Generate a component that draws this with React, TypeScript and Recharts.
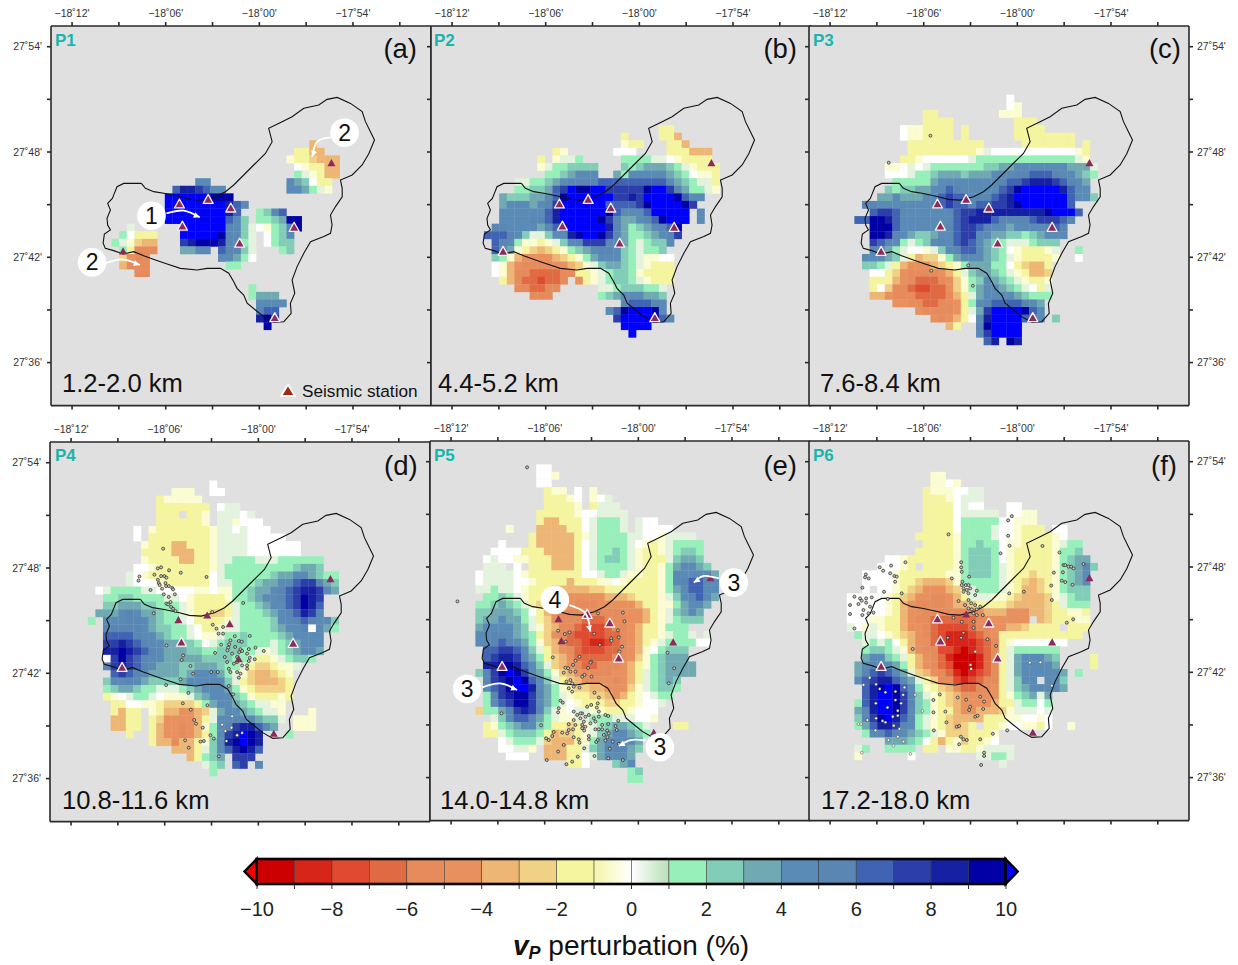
import { CartesianGrid, Scatter, ScatterChart, XAxis, YAxis } from 'recharts'

const FONT = '"Liberation Sans", Arial, sans-serif'

// map window, arcminutes east of 18d12'W and south of 27d54'N
const LON0 = -18.2
const LAT0 = 27.9
const WEST_MIN = -1.35
const EAST_MIN = 23.0
const NORTH_MIN = -1.18
const SOUTH_MIN = 20.45
const PLOT_W = 380
const PLOT_H = 379.6

const lonTicks = [-18.2, -18.15, -18.1, -18.05, -18, -17.95, -17.9, -17.85]
const latTicks = [27.9, 27.85, 27.8, 27.75, 27.7, 27.65, 27.6]

// tomography grid
const GRID_E0 = 1.801
const GRID_S0 = 0.797
const GRID_DE = 0.4872
const GRID_DS = 0.4319

// perturbation bins: a..j = -10..0, k..t = 0..10, w = about 0, u = above 10
const binCodes = 'abcdefghijklmnopqrst'
const binColors = [
  '#cc0000', '#d8251a', '#e04a30', '#e06a42', '#e68b5b', '#e8915e', '#eeb674', '#f1d186', '#f5f5a0', '#fcfcd2',
  '#e4f3de', '#97efb9', '#82cdb7', '#70a9b1', '#5a8bb6', '#5a86b4', '#4163b4', '#2b3eaa', '#1520a2', '#0000a6',
]
const binMids = [-9.5, -8.5, -7.5, -6.5, -5.5, -4.5, -3.5, -2.5, -1.5, -0.5, 0.5, 1.5, 2.5, 3.5, 4.5, 5.5, 6.5, 7.5, 8.5, 9.5]
const colorbarTicks = [-10, -9, -8, -7, -6, -5, -4, -3, -2, -1, 0, 1, 2, 3, 4, 5, 6, 7, 8, 9, 10]

function cellColor(code) {
  if (code === 'w') return '#ffffff'
  if (code === 'u') return '#0000ff'
  return binColors[binCodes.indexOf(code)]
}

// [row, first column, bin codes]
const cellsP1 = [
  [11, 28, 'g'], [12, 26, 'iigg'], [13, 25, 'jiihggg'], [14, 26, 'wjiigg'], [15, 26, 'lkjigg'],
  [16, 13, 'oo'], [16, 25, 'onmwii'], [17, 10, 'qssrqoo'], [17, 25, 'oonlkj'], [18, 9, 'uuuuuuttt'],
  [19, 9, 'uuuuuuuusqo'], [20, 9, 'uuuuuuuusq'], [20, 21, 'lmoq'], [21, 9, 'uuuuuuuuqom'], [21, 21, 'llmntt'],
  [22, 4, 'k'], [22, 11, 'uuuuuupomkwjlmpt'], [23, 3, 'lwiii'], [23, 11, 'uuuuutpomk'], [23, 22, 'wlmo'],
  [24, 2, 'lkjhgg'], [24, 11, 'rstttspolk'], [24, 22, 'wlmm'], [25, 3, 'lieee'], [25, 11, 'nnoo'], [25, 16, 'qppmk'],
  [25, 24, 'lm'], [26, 3, 'hfee'], [26, 16, 'oonlw'], [27, 3, 'geee'], [27, 17, 'll'], [28, 5, 'ee'],
  [30, 20, 'l'], [31, 20, 'lnnn'], [32, 21, 'oooo'], [33, 21, 'pqq'], [34, 21, 'str'], [35, 22, 't'],
]

const cellsP2 = [
  [9, 24, 'ii'], [10, 19, 'i'], [10, 24, 'iig'], [11, 19, 'jii'], [11, 25, 'iig'],
  [12, 10, 'ij'], [12, 18, 'www'], [12, 25, 'iiiggg'], [13, 8, 'i'], [13, 10, 'jkkl'], [13, 19, 'llllkkwjiiii'],
  [14, 8, 'jkllmmmm'], [14, 19, 'mlmnnnmlkjiii'], [15, 9, 'llmnooo'], [15, 18, 'nlooooonmlwjji'],
  [16, 5, 'kkllmnoppppqqqqqqqqqonmlkki'], [17, 5, 'llmmnqruttuurrrrrtuurpnllkj'],
  [18, 3, 'nmmmnnoqtuuuuuurrsruuuutqoo'], [19, 3, 'nooonopruuuuuuqqqqrtuuuutr'],
  [20, 3, 'ooooooqsuuuuuutqoooquuuuu'], [20, 29, 'o'], [21, 3, 'ooooppqsuuuuutrpnnopqtuuu'], [21, 29, 'o'],
  [22, 2, 'ppoooonoqtuuuuuspnlmnopqt'], [23, 1, 'qqqpomkkmoostuutrpnllmnopr'],
  [24, 2, 'qpoljjijkmoprrrponlklmmo'], [25, 2, 'qpnjihghijlmnoppomlkllm'],
  [26, 2, 'mljgffffghijlnooomlkjjww'], [27, 2, 'wjgfeeeeffghjkmnnmlkjiii'],
  [28, 2, 'wjgeeddddeeiijklmmljiiii'], [29, 3, 'igeddcdde'], [29, 13, 'fijklmmlkjiii'],
  [30, 5, 'eeddee'], [30, 16, 'kklmmmllk'], [31, 7, 'eee'], [31, 16, 'lmnooonnm'], [32, 19, 'pqqqpo'],
  [33, 17, 'oqtuuuto'], [34, 18, 'ruuuutqo'], [35, 19, 'uuuu'], [36, 20, 'u'],
]

const cellsP3 = [
  [5, 20, 'w'], [6, 20, 'wj'], [7, 9, 'ii'], [7, 19, 'jjj'], [8, 9, 'iiii'], [8, 21, 'iii'],
  [9, 6, 'wjjiiii'], [9, 14, 'i'], [9, 21, 'iiii'], [10, 6, 'wjjiiii'], [10, 14, 'i'], [10, 21, 'iiiiiiii'],
  [11, 7, 'iiiiiiiiii'], [11, 22, 'iiiiiii'], [11, 30, 'i'], [12, 7, 'iiiiiiiiijkwwwwwwwwwwwji'],
  [13, 6, 'iijwwwwwwklllllllllllllkj'], [14, 4, 'jjwkwklllllllmmnnooooooonnnk'],
  [15, 4, 'wwwkllmnnnmnnnoooppqqqpoonml'], [16, 5, 'lllllnoooooooopqqrsssrqpon'],
  [17, 4, 'mlmmnnooqpoooooqrtuuuuusqoo'], [18, 3, 'nnonnnooqrqqoppqrsuuuuuuuqo'], [18, 30, 'om'],
  [19, 1, 'ppooooooopqrqqpqqrrstuuuuuuq'], [20, 2, 'qrrqoooooooqrrssssssssstuuuq'],
  [21, 0, 'qqttsqoooooooqrsssqppppqrrrqp'], [22, 2, 'tttqoooooopqrrqpoonoooopqp'],
  [23, 2, 'ttsponmmnooqrroonnmmlmnooo'], [24, 2, 'rqpolklmopoqrqonmlkkklmmm'],
  [25, 2, 'ponlkwwjkmopqqonmlwjiiijk'], [25, 29, 'l'], [26, 1, 'ooonmkighhjlnooonmlkjiiiij'], [26, 29, 'w'],
  [27, 1, 'mmlkigfffghijlnnnllwihggi'], [28, 2, 'wwihfeeeefgikmnnmlkjiggh'],
  [29, 2, 'iiigfedddefhjlmonmlkjiij'], [30, 2, 'iwheedccddfhjlnoonmlkwik'],
  [31, 2, 'ggfeeeddddegiknoooonmlll'], [32, 5, 'ffeeddeefilopqqqqpon'],
  [33, 8, 'feeeefiknruuuutqo'], [34, 10, 'fefgiwosuuuuqoo'], [34, 26, 'm'],
  [35, 12, 'gi'], [35, 16, 'ptuuuu'], [36, 16, 'oruuuu'], [37, 17, 'qs.ts'],
]

const cellsP4 = [
  [1, 15, 'w'], [2, 10, 'jjj'], [2, 15, 'ww'], [3, 8, 'ijjjjj'], [4, 8, 'iiiiiii'], [4, 16, 'wkk'],
  [5, 8, 'iii.iij'], [5, 16, 'kkkwk'], [6, 8, 'iiiiiij'], [6, 16, 'kkjwww'], [7, 5, 'w'], [7, 7, 'jiiiiiiijkkwkwww'],
  [8, 5, 'w'], [8, 7, 'iiiiiiiijkkkkwwwww'], [9, 6, 'jiiiggiiijkkkkwwwwwww'], [10, 6, 'iiiigggiijkkkkwwwwwww'],
  [11, 6, 'jiiiiggiijkklllkkkllllll'], [12, 5, 'wwjiiiiiiijklllllllllmnnm'],
  [13, 4, 'kwjiiiiiiiiwkllllllmnnoonmll'], [14, 4, 'kwwwjiiiiiiwkklllmnnooqrrpnm'],
  [15, 0, 'wkllllkkwwwwwjjwjjllmnnopqrssron'], [16, 1, 'llmmllllkkwjiiiijllmnoopqrtsr'],
  [17, 1, 'mmnnnmmlllkjiiiiikllmnooqrtsq'], [18, 0, 'nnnoponnmllkjiihhiklllmnopqsrp'],
  [19, -1, 'l'], [19, 1, 'ooopponmllkwiiiijkllllmoopqpo'], [19, 30, 'om'],
  [20, 1, 'ppppponmmllkwiijkkllllmnoopw'], [20, 29, 'onl'], [21, 1, 'qqqqpoonmllkwjjkllmllllmnoooo'],
  [22, 1, 'rrsrqpoonnmmlwklmmmlllklmnooo'], [23, 1, 'sstsrqponnnmmllmmmllkjklmnoon'],
  [24, 1, 'wrtrqpoonnnnnmmmmllkiijklmml'], [25, 1, 'prsrqponnnmmnnnmllkihhijjk'],
  [26, 2, 'qrqponnnnmnooonlkjhgghij'], [27, 1, 'mooponmmmmnooooomkihggghi'],
  [28, 1, 'lmnnmllkkklmnooonljihhhhi'], [29, 1, 'ijwkllkwjjjkmnooomljiiiji'],
  [30, 2, 'iiwwjjihhhhilnoonmlkkjj'], [31, 2, 'igii'], [31, 7, 'jiggffghknoonmlkkj'], [31, 28, 'j'],
  [32, 2, 'ggii'], [32, 7, 'ihffffgikoopponmmk'], [32, 26, 'jjj'], [33, 2, 'ggii'], [33, 7, 'igffefgjloprssqon'],
  [33, 26, 'jjj'], [34, 4, 'i'], [34, 7, 'igffefgilorsuts'], [34, 25, 'l'], [35, 7, 'iggeggijmostuts'],
  [36, 10, 'gggikmoqstsq'], [37, 12, 'gilmn'], [37, 18, 'rrr'], [38, 14, 'klm'], [38, 18, 'qr'], [38, 21, 'o'], [39, 15, 'l'],
]

const cellsP5 = [
  [-1, 8, 'ww'], [0, 8, 'wwj'], [1, 8, 'ww'], [2, 9, 'ijj'], [2, 13, 'w'], [2, 15, 'j'], [3, 9, 'iiijw'], [3, 15, 'jwk'],
  [4, 9, 'iiiij'], [4, 15, 'ikkk'], [5, 8, 'iiiiijwwkkkk'], [6, 8, 'iggiiiwklllk'], [6, 21, 'kww'],
  [7, 4, 'j'], [7, 8, 'ggggiiwklllk'], [7, 21, 'kwwww'], [8, 7, 'igggggijkllllkkwwjkkkk'],
  [9, 3, 'w'], [9, 7, 'igggggiwkllllkwjijkllll'], [10, 2, 'wwwwiiiggggiwkllmlkjiijklmml'],
  [11, 1, 'wkwwjjiiigggiwklmmlkjiiikmnnm'], [12, 1, 'kkk.w.iiigggiwkllllkjiijlnoonm'],
  [13, 0, 'wkkkkwjiiiiiiiwwkllkjjiijlooooon'], [14, 0, 'wkkkkwwjiiiigiiijjwjiiiijlopqqoo'],
  [15, 0, 'kklkkwjiiiggggghhiiiiiiijlnoqqoo'], [16, 1, 'llmlkjiiggffffffggghiiijkmopqon'],
  [17, 0, 'llmnmlkihgfffeeefffffgiijjlnoon'], [18, 0, 'mmnnnmlwigfeeeeeeeefffgijkmnon'],
  [19, 0, 'mnnonnlkihfeeedddeeeffgijklmmm'], [20, 0, 'noooonmkjhgeedcccdeefgiijlll'],
  [21, 0, 'oopponmlihfedccccddefgiijkllk'], [21, 30, 'k'], [22, 0, 'oopqponljhgeddcbbcdefgijkllllw'], [22, 30, 'w'],
  [23, 1, 'qqrrqomkigfedcccddefgjwlmmm'], [24, 1, 'qrssrpnlihgfdddddeefhjlmnnn'],
  [25, 1, 'ssttsqomkhgfeddeeefgijlmnnnn'], [26, 0, 'mprtutronljhgfeeeeffgiklmnnnn'],
  [27, 1, 'prstutqomkihgffffefgiklmnm'], [28, 1, 'oqrtuusonljihhggfffhjklmml'],
  [29, 1, 'lprsttrpnlkjiihhgfgijwkll'], [30, 1, 'loqrttronlkwjiiihhiijwwk'],
  [31, 0, 'hllnprsrpmkjwkkjjiiijwww'], [32, 2, 'kmoqqpnlkjjkklllkkkwwj'],
  [33, 1, 'ijlmnoomliihijklmnnmlk'], [33, 26, 'ii'], [34, 1, 'iiklmmmlighhijkmnoonml'],
  [35, 3, 'wklllkhgggijlnoooon'], [36, 3, 'wwkkj.gggiikmnpppnm'], [37, 4, 'www'], [37, 9, 'gggiiwknooon'],
  [38, 12, 'iiw'], [38, 18, 'mno'], [39, 20, 'lm'], [40, 20, 'll'],
]

const cellsP6 = [
  [0, 10, 'jj'], [1, 10, 'jjwj'], [2, 9, 'ijjjwwkk'], [3, 9, 'iiijwkkk'], [4, 9, 'iiiiwkww'], [4, 20, 'ww'],
  [5, 9, 'iiiiwkkkkk'], [5, 20, 'wwjj'], [6, 9, 'iiiiwlllll'], [6, 19, 'wwjjj'], [7, 9, 'iiiiwllllkwwjiii'], [7, 26, 'ww'],
  [8, 8, 'iiiiijllllkwwjiiiijw'], [9, 9, 'iiiijllmllwjjiiiijkll'], [10, 8, 'iiiiijlmmmlwjiiiiijllm'],
  [11, 4, 'wwjiiiiiijlmmmlwjiiiiijlmnn'], [12, 3, 'wwwji.iiiijlmmmlkjiiiiijlmnom'],
  [13, 1, 'wwwwjiiiiiijjlmmmlkjiihiijlmno'], [14, 1, 'wwwwjiihggghjlllllkjihghijlmno'],
  [15, 1, 'w.wwjihgfffghjklllkjigghijlmmm'], [16, -1, 'wwwwwjihgffeefgikkkjjihggghjklmm'],
  [17, -1, 'wwwwwjigfeeeefgghiiiihgggghiklll'], [18, -1, 'wwwwwjigffeeeeeeefgggfffgghiijji'],
  [19, -1, 'wwwjjiigfeeddddddeefffff.ghiiijj'], [20, -1, 'kwjkjiigffedccccdeeffgghiiii.iii'],
  [21, 0, 'lkkwjihgfedcbbbcdefiiiiiiiiiii'], [22, 1, 'klklwigffdcbbbbcdeijwwwwwww'],
  [23, 1, 'lmmlkjgfeeccbabcdeikllllll'], [24, 1, 'noomlkigfedbaaabdeiknooonm'], [24, 31, 'i'],
  [25, 0, 'nopoonligfedcaaabdeiknoooon'], [25, 31, 'i'], [26, 0, 'npqrqonkhgfedbabcdeiknooooon'], [26, 29, 'l'],
  [27, 0, 'oqrssqonkiheecbcdeeikmoo.oom'], [28, 1, 'qstutqoljihgeddeefikmnoooon'],
  [29, 1, 'qsuutrpmkjihgfffffijlmnkn'], [30, 0, 'lqsuutrpmljihgffffgiikllwl'],
  [31, 0, 'npsuutromljiigffggghjkkkwk'], [32, 0, 'mprtusqolkjihggggiiijjwwjw'],
  [33, 0, 'lnqssrpolkjihghi.iijwwjjiw'], [33, 28, 'j'], [34, 1, 'lopqponmlkjhhhiiij'],
  [35, 4, 'nnnmlwigijhiijw'], [36, 0, 'kl'], [36, 4, 'llll'], [36, 9, 'ii'], [36, 12, 'jjiijkkkk'],
  [37, 0, 'j'], [37, 7, 'w'], [37, 16, 'kkllk'], [38, 19, 'k'],
]

// coastline, [arcmin east, arcmin south]
const coastline = [
  [4.44, 7.79], [3.95, 7.79], [3.31, 7.79], [2.88, 7.98], [2.71, 8.36], [2.58, 8.64], [2.28, 8.93], [2.46, 9.3], [2.24, 9.78],
  [2.28, 10.16], [2.46, 10.44], [2.07, 10.67], [1.99, 11.2], [2.13, 11.49], [2.67, 11.62], [3.27, 11.81], [3.95, 11.68],
  [4.59, 11.91], [5.34, 12.15], [6.09, 12.38], [6.94, 12.63], [8.01, 12.72], [8.65, 12.63], [9.51, 12.63], [10.04, 12.91],
  [10.36, 13.39], [10.57, 13.77], [11.0, 14.15], [11.22, 14.62], [11.75, 15.0], [12.28, 15.38], [12.93, 15.71], [13.57, 15.67],
  [14.04, 15.19], [13.99, 14.62], [14.27, 14.05], [14.1, 13.29], [14.42, 12.53], [14.85, 11.77], [15.28, 11.11], [16.13, 10.82],
  [16.56, 10.63], [16.66, 10.16], [16.56, 9.59], [16.88, 9.11], [17.31, 8.55], [17.31, 8.07], [17.2, 7.6], [17.95, 7.31],
  [18.59, 6.74], [19.02, 6.08], [19.38, 5.32], [19.12, 4.84], [18.8, 4.27], [18.59, 3.7], [17.84, 3.23], [16.99, 2.89],
  [16.34, 3.0], [15.81, 3.32], [14.85, 3.51], [14.1, 3.99], [13.46, 4.27], [12.6, 4.65], [12.82, 5.41], [12.39, 6.08],
  [11.64, 6.74], [11.0, 7.31], [10.36, 7.88], [9.83, 8.26], [9.19, 8.55], [8.33, 8.74], [7.58, 8.7], [6.94, 8.55],
  [5.98, 8.36], [5.23, 8.26], [4.7, 8.07], [4.44, 7.79],
]

const stationSites = [
  [6.88, 8.96], [8.72, 8.7], [10.17, 9.19], [7.07, 10.22], [10.74, 11.19], [14.23, 10.29], [12.99, 15.44], [16.62, 6.63], [3.27, 11.66],
]

const eventsP3 = [[6.43, 5.07], [3.76, 6.61], [6.48, 12.76], [8.85, 12.46], [9.15, 13.62]]

const eventsP4 = [
  [5.9, 4.9], [5.56, 6.02], [5.77, 5.96], [6.28, 6.13], [7.03, 6.27], [5.34, 6.38], [5.77, 6.46], [5.98, 6.46], [6.11, 6.55], [8.68, 6.51],
  [4.38, 6.48], [4.32, 6.72], [5.56, 6.67], [5.62, 6.86], [5.68, 6.97], [6.05, 6.86], [6.26, 7.03], [6.48, 7.14], [6.54, 7.22], [6.09, 7.03],
  [5.09, 7.25], [5.83, 7.18], [6.65, 7.5], [5.94, 7.5], [6.26, 7.65], [6.37, 7.94], [6.11, 8.03], [6.22, 8.07], [6.41, 8.22], [6.54, 8.32],
  [6.69, 8.45], [5.3, 8.58], [11.03, 7.99], [9.04, 8.51], [9.08, 9.23], [9.32, 9.46], [9.74, 9.36], [9.45, 9.74], [9.74, 9.74], [9.62, 10.37],
  [11.45, 9.87], [10.49, 9.89], [10.75, 10.16], [10.94, 10.2], [10.21, 10.12], [10.13, 10.35], [10.07, 10.54], [10.51, 10.5], [10.86, 10.63],
  [11.39, 10.62], [11.82, 10.54], [12.35, 10.73], [9.23, 10.84], [10.02, 10.69], [10.77, 10.79], [10.96, 10.73], [9.85, 11.07], [10.32, 10.88],
  [10.64, 11.07], [11.28, 10.88], [11.45, 11.11], [11.77, 11.2], [11.39, 11.3], [10.0, 11.36], [10.43, 11.45], [10.64, 11.36], [10.96, 11.55],
  [11.28, 11.55], [11.28, 11.74], [10.11, 11.74], [10.21, 11.93], [10.64, 11.93], [10.86, 12.02], [10.75, 12.25], [6.11, 10.41], [7.18, 10.98],
  [7.09, 11.24], [7.65, 11.58], [7.82, 12.02], [8.98, 11.93], [9.4, 11.93], [7.01, 12.34], [6.09, 12.67], [10.11, 12.72], [10.39, 13.2],
  [7.52, 13.12], [7.16, 13.71], [8.74, 13.82], [7.67, 14.07], [7.89, 14.66], [8.01, 14.87], [8.44, 15.1], [8.93, 15.53], [9.15, 15.72],
  [8.51, 15.86], [8.29, 15.89], [7.31, 15.82], [7.54, 16.24], [9.47, 16.73],
]
const brightEventsP4 = [[10.32, 14.45], [9.68, 14.93], [10.28, 15.1], [10.96, 15.4], [10.64, 15.53], [9.96, 15.86], [9.89, 15.29]]

const eventsP5 = [
  [4.87, 0.32], [0.41, 7.96], [9.42, 8.64], [11.01, 8.6], [11.11, 9.1], [10.69, 9.61], [7.59, 9.72], [7.29, 9.82], [6.86, 9.63], [9.17, 9.8],
  [7.35, 10.25], [10.26, 10.06], [10.28, 10.2], [10.75, 10.01], [10.96, 10.54], [9.53, 10.43], [10.79, 10.82], [6.52, 11.15], [8.23, 11.11],
  [7.97, 11.34], [7.82, 11.58], [8.98, 11.39], [8.93, 11.45], [8.78, 11.75], [7.33, 11.74], [7.5, 11.77], [7.22, 12.02], [7.65, 11.96], [7.97, 11.96],
  [8.4, 12.25], [9.0, 12.25], [8.55, 12.15], [13.87, 10.88], [14.3, 11.77], [13.95, 12.63], [7.65, 12.44], [7.39, 12.53], [7.76, 12.63], [7.86, 12.82],
  [7.54, 12.91], [7.76, 13.1], [8.23, 12.88], [9.19, 13.16], [9.47, 13.44], [7.01, 13.62], [7.16, 13.73], [6.9, 14.05], [6.86, 14.28], [3.23, 14.34],
  [5.77, 15.02], [8.98, 13.86], [9.4, 13.77], [9.34, 14.01], [9.47, 14.24], [8.4, 14.34], [8.72, 13.96], [7.86, 14.24], [8.08, 14.43], [8.29, 14.34],
  [8.61, 14.53], [8.83, 14.43], [9.15, 14.62], [9.47, 14.53], [9.89, 14.43], [10.07, 14.49], [7.86, 14.72], [8.29, 14.62], [8.51, 14.81], [8.93, 14.91],
  [9.25, 14.81], [7.54, 14.96], [7.97, 15.0], [8.4, 15.0], [8.61, 15.1], [9.68, 15.0], [10.07, 14.95], [10.54, 15.06], [10.71, 14.76], [7.54, 15.29],
  [7.82, 15.25], [8.4, 15.19], [8.53, 15.32], [9.25, 15.25], [9.47, 15.25], [9.68, 15.25], [10.0, 15.32], [10.62, 15.29], [7.12, 15.44], [7.44, 15.48],
  [6.58, 15.4], [6.48, 15.63], [6.09, 15.76], [6.26, 15.86], [7.86, 15.7], [8.18, 15.82], [8.83, 15.63], [8.83, 15.82], [9.4, 15.86], [9.79, 15.57],
  [10.11, 15.48], [10.02, 15.7], [9.3, 15.97], [9.89, 15.89], [8.23, 16.01], [7.22, 16.14], [8.53, 16.33], [10.36, 15.95], [10.75, 16.08], [10.17, 16.35],
  [6.86, 16.52], [8.12, 16.81], [9.19, 16.77], [10.07, 16.9], [11.01, 17.0], [6.13, 17.0], [7.39, 17.24], [7.76, 17.09],
]

const eventsP6 = [
  [11.65, 3.1], [11.41, 3.34], [7.59, 4.14], [11.41, 4.22], [11.5, 4.79], [13.61, 4.8], [10.92, 5.22], [14.7, 5.17], [4.83, 5.73], [8.4, 5.73],
  [3.91, 5.92], [3.18, 6.02], [3.4, 6.21], [8.4, 6.02], [8.44, 6.27], [14.96, 5.89], [15.07, 5.89], [15.28, 5.98], [15.45, 5.98], [15.6, 6.08],
  [16.24, 5.83], [3.85, 6.36], [4.12, 6.51], [4.27, 6.55], [2.29, 6.42], [2.24, 6.59], [2.48, 6.65], [4.17, 6.84], [7.8, 6.65], [8.91, 6.55],
  [14.34, 6.32], [14.92, 6.3], [14.85, 6.78], [15.07, 6.86], [15.54, 7.01], [14.17, 7.06], [8.48, 6.84], [8.44, 7.03], [8.7, 7.03], [8.87, 7.03],
  [8.55, 7.22], [8.76, 7.31], [8.98, 7.22], [8.55, 7.41], [8.87, 7.5], [9.4, 7.35], [9.3, 7.6], [2.07, 7.18], [3.46, 7.41], [4.59, 7.5],
  [3.7, 7.82], [11.48, 7.5], [12.42, 7.41], [1.56, 7.69], [1.92, 7.79], [2.31, 7.79], [2.67, 7.73], [2.03, 7.92], [2.31, 8.03], [1.28, 8.17],
  [1.82, 8.11], [2.56, 8.26], [2.14, 8.45], [2.78, 8.6], [2.46, 8.64], [1.28, 8.68], [2.07, 8.74], [1.56, 9.5], [8.23, 7.94], [14.21, 7.88],
  [8.87, 7.88], [9.04, 8.07], [8.65, 8.17], [9.3, 8.17], [8.87, 8.36], [9.08, 8.41], [9.4, 8.41], [9.62, 8.26], [9.19, 8.64], [9.4, 8.74],
  [9.79, 8.74], [7.91, 8.89], [8.44, 9.12], [9.19, 9.12], [15.58, 8.98], [15.17, 9.17], [9.19, 9.46], [8.55, 9.74], [8.4, 10.03], [7.54, 10.03],
  [10.09, 10.12], [10.64, 10.5], [5.3, 10.67], [7.03, 13.26], [6.62, 13.58], [6.62, 14.28], [8.18, 13.44], [8.72, 13.56], [9.62, 13.39], [9.87, 13.67],
  [8.98, 13.96], [8.91, 14.15], [9.81, 14.09], [9.3, 14.53], [9.45, 14.47], [7.39, 14.24], [7.46, 14.85], [8.12, 15.1], [8.27, 15.06], [6.65, 15.31],
  [8.38, 15.67], [8.55, 15.82], [8.76, 15.86], [9.62, 15.82], [10.43, 15.5], [11.35, 15.31], [8.27, 16.1], [9.87, 16.58], [9.87, 16.77], [9.68, 17.28],
]
const brightEventsP6 = [
  [9.3, 10.82], [9.0, 11.58], [9.04, 11.81], [12.8, 11.45], [13.48, 11.43], [14.21, 12.76], [2.54, 12.31], [2.14, 12.72], [2.95, 12.69], [3.18, 12.95],
  [3.55, 13.14], [4.77, 12.86], [4.19, 13.1], [4.68, 13.29], [5.45, 13.29], [2.93, 13.77], [3.68, 14.01], [4.19, 13.58], [4.55, 13.77], [4.34, 14.19],
  [5.92, 14.2], [4.02, 14.53], [4.34, 14.47], [2.95, 14.62], [3.36, 14.77], [3.55, 14.85], [4.08, 15.04], [4.44, 15.23], [2.91, 15.31], [1.82, 14.95],
  [1.99, 14.95], [2.39, 14.72], [3.74, 15.86], [4.7, 15.95], [4.06, 16.18], [4.34, 15.67], [2.03, 16.58], [5.15, 16.65],
]

// numbered callouts: label, bubble, arrow start, arrow bend, arrow tip
const calloutsP1 = [
  ['1', [5.09, 9.63], [6.05, 9.5], [7.16, 9.34], [8.18, 9.72]],
  ['2', [17.46, 4.9], [16.56, 5.17], [15.71, 5.41], [15.39, 6.27]],
  ['2', [1.28, 12.29], [2.14, 12.34], [3.21, 12.12], [4.34, 12.44]],
]
const calloutsP5 = [
  ['3', [18.12, 6.89], [17.16, 6.65], [16.2, 6.51], [15.56, 6.89]],
  ['4', [6.65, 7.88], [7.59, 8.17], [8.61, 8.64], [8.93, 9.68]],
  ['3', [1.03, 12.95], [1.99, 12.86], [3.16, 12.63], [4.23, 13.01]],
  ['3', [13.38, 16.27], [12.46, 15.89], [11.5, 15.86], [10.75, 16.2]],
]

const toPoint = ([east, south]) => ({ lon: LON0 + east / 60, lat: LAT0 - south / 60 })

function expandCells(rows) {
  const out = []
  for (const [row, col, codes] of rows) {
    ;[...codes].forEach((code, i) => {
      if (code === '.') return
      out.push({
        lon: LON0 + (GRID_E0 + (col + i) * GRID_DE) / 60,
        lat: LAT0 - (GRID_S0 + row * GRID_DS) / 60,
        code,
      })
    })
  }
  return out
}

const CELL_W = (GRID_DE * PLOT_W) / (EAST_MIN - WEST_MIN)
const CELL_H = (GRID_DS * PLOT_H) / (SOUTH_MIN - NORTH_MIN)

const lonDomain = [LON0 + WEST_MIN / 60, LON0 + EAST_MIN / 60]
const latDomain = [LAT0 - SOUTH_MIN / 60, LAT0 - NORTH_MIN / 60]

function graticuleLabel(value) {
  const abs = Math.abs(value)
  const deg = Math.floor(abs + 1e-9)
  const min = Math.round((abs - deg) * 60)
  if (min % 6 !== 0) return ''
  const sign = value < 0 ? '\u2212' : ''
  return `${sign}${deg}\u02DA${String(min).padStart(2, '0')}'`
}

function CellMark(props) {
  const code = props.payload?.code ?? props.code
  return (
    <rect
      x={props.cx - CELL_W / 2}
      y={props.cy - CELL_H / 2}
      width={CELL_W + 0.3}
      height={CELL_H + 0.3}
      fill={cellColor(code)}
    />
  )
}

function EventMark({ cx, cy }) {
  return <circle cx={cx} cy={cy} r={1.5} fill="#c4c4b8" stroke="#222" strokeWidth={0.7} />
}

function BrightEventMark({ cx, cy }) {
  return <circle cx={cx} cy={cy} r={1.4} fill="#fdfbd0" stroke="#223" strokeWidth={0.4} />
}

function StationMark(props) {
  const { cx, cy } = props
  const halo = props.payload?.halo ?? props.halo
  const r = halo ? 5 : 4
  const pts = `${cx},${cy - r} ${cx - r},${cy + r * 0.8} ${cx + r},${cy + r * 0.8}`
  return (
    <polygon
      points={pts}
      fill="#8a2b5c"
      stroke={halo ? '#f6f0f0' : 'none'}
      strokeWidth={halo ? 1.3 : 0}
      strokeLinejoin="round"
    />
  )
}

function BubbleMark(props) {
  const { cx, cy } = props
  const label = props.payload?.label ?? props.label
  return (
    <g>
      <circle cx={cx} cy={cy} r={14.3} fill="#ffffff" />
      <text x={cx} y={cy + 8} textAnchor="middle" fontSize={23} fontFamily={FONT} fill="#111">
        {label}
      </text>
    </g>
  )
}

function ArrowTip(props) {
  const p = props.payload ?? props
  if (p.angle === undefined) return <g />
  const { cx, cy } = props
  return <polygon points="0,0 -6,-3 -6,3" fill="#fff" transform={`translate(${cx},${cy}) rotate(${p.angle})`} />
}

function NoMark() {
  return <g />
}

function arrowPoints(callout) {
  const pts = [callout[2], callout[3], callout[4]]
  const [a, b] = [pts[1], pts[2]]
  const angle = (Math.atan2((b[1] - a[1]) * 17.55, (b[0] - a[0]) * 15.6) * 180) / Math.PI
  return pts.map((p, i) => (i === 2 ? { ...toPoint(p), angle } : toPoint(p)))
}

function MapPanel({ left, top, cells, events = [], brightEvents = [], haloStations, callouts = [], labelSide }) {
  const stations = stationSites.map((s, i) => ({ ...toPoint(s), halo: haloStations.includes(i) }))
  const axisColor = '#2a2a2a'
  const labelTick = { fontSize: 10.5, fill: '#333', fontFamily: FONT }
  return (
    <div style={{ position: 'absolute', left: left - 45, top: top - 26 }}>
      <ScatterChart
        width={PLOT_W + 90}
        height={PLOT_H + 38}
        margin={{ top: 0, right: 0, bottom: 0, left: 0 }}
      >
        <CartesianGrid horizontal={false} vertical={false} fill="#e0e0e0" stroke="none" />
        <XAxis
          xAxisId="top"
          orientation="top"
          type="number"
          dataKey="lon"
          domain={lonDomain}
          ticks={lonTicks}
          interval={0}
          height={26}
          tickSize={4}
          tickMargin={5}
          allowDataOverflow
          stroke={axisColor}
          strokeWidth={1.6}
          tick={labelTick}
          tickFormatter={graticuleLabel}
        />
        <XAxis
          xAxisId="bottom"
          orientation="bottom"
          type="number"
          dataKey="lon"
          domain={lonDomain}
          ticks={lonTicks}
          interval={0}
          height={12}
          tickSize={4}
          allowDataOverflow
          stroke={axisColor}
          strokeWidth={1.6}
          tickFormatter={() => ''}
        />
        <YAxis
          yAxisId="left"
          orientation="left"
          type="number"
          dataKey="lat"
          domain={latDomain}
          ticks={latTicks}
          interval={0}
          width={45}
          tickSize={4}
          tickMargin={5}
          allowDataOverflow
          stroke={axisColor}
          strokeWidth={1.6}
          tick={labelTick}
          tickFormatter={(v) => (labelSide === 'left' ? graticuleLabel(v) : '')}
        />
        <YAxis
          yAxisId="right"
          orientation="right"
          type="number"
          dataKey="lat"
          domain={latDomain}
          ticks={latTicks}
          interval={0}
          width={45}
          tickSize={4}
          tickMargin={4}
          allowDataOverflow
          stroke={axisColor}
          strokeWidth={1.6}
          tick={labelTick}
          tickFormatter={(v) => (labelSide === 'right' ? graticuleLabel(v) : '')}
        />
        <Scatter
          xAxisId="top"
          yAxisId="left"
          data={expandCells(cells)}
          shape={CellMark}
          isAnimationActive={false}
        />
        <Scatter
          xAxisId="top"
          yAxisId="left"
          data={coastline.map(toPoint)}
          line={{ stroke: '#111', strokeWidth: 1.1 }}
          shape={NoMark}
          isAnimationActive={false}
        />
        <Scatter xAxisId="top" yAxisId="left" data={events.map(toPoint)} shape={EventMark} isAnimationActive={false} />
        <Scatter
          xAxisId="top"
          yAxisId="left"
          data={brightEvents.map(toPoint)}
          shape={BrightEventMark}
          isAnimationActive={false}
        />
        <Scatter xAxisId="top" yAxisId="left" data={stations} shape={StationMark} isAnimationActive={false} />
        {callouts.map((c, i) => (
          <Scatter
            key={`arrow-${i}`}
            xAxisId="top"
            yAxisId="left"
            data={arrowPoints(c)}
            line={{ stroke: '#fff', strokeWidth: 1.8 }}
            lineJointType="natural"
            shape={ArrowTip}
            isAnimationActive={false}
          />
        ))}
        <Scatter
          xAxisId="top"
          yAxisId="left"
          data={callouts.map((c) => ({ ...toPoint(c[1]), label: c[0] }))}
          shape={BubbleMark}
          isAnimationActive={false}
        />
      </ScatterChart>
    </div>
  )
}

const COLORBAR_W = 749
const COLORBAR_H = 25

function ColorbarCell(props) {
  const v = props.payload?.v ?? props.v
  const i = binMids.indexOf(v)
  const fill = i === 9 ? 'url(#barYellowWhite)' : i === 10 ? 'url(#barWhiteGreen)' : binColors[i]
  const w = COLORBAR_W / 20
  return (
    <rect
      x={props.cx - w / 2}
      y={props.cy - COLORBAR_H / 2}
      width={w}
      height={COLORBAR_H}
      fill={fill}
      stroke="#333"
      strokeWidth={0.5}
    />
  )
}

function Colorbar() {
  return (
    <div style={{ position: 'absolute', left: 256.6 - 30, top: 859 }}>
      <ScatterChart
        width={COLORBAR_W + 60}
        height={COLORBAR_H + 60}
        margin={{ top: 0, right: 30, bottom: 0, left: 30 }}
      >
        <defs>
          <linearGradient id="barYellowWhite" x1="0" y1="0" x2="1" y2="0">
            <stop offset="0%" stopColor="#f5f5a8" />
            <stop offset="100%" stopColor="#ffffff" />
          </linearGradient>
          <linearGradient id="barWhiteGreen" x1="0" y1="0" x2="1" y2="0">
            <stop offset="0%" stopColor="#ffffff" />
            <stop offset="100%" stopColor="#b8dfb8" />
          </linearGradient>
        </defs>
        <XAxis
          type="number"
          dataKey="v"
          domain={[-10, 10]}
          ticks={colorbarTicks}
          interval={0}
          height={60}
          tickSize={5}
          tickMargin={13}
          axisLine={false}
          stroke="#333"
          tick={{ fontSize: 20, fill: '#222', fontFamily: FONT }}
          tickFormatter={(v) => (v % 2 === 0 ? String(v).replace('-', '\u2212') : '')}
        />
        <YAxis type="number" dataKey="y" domain={[0, 1]} hide />
        <Scatter data={binMids.map((v) => ({ v, y: 0.5 }))} shape={ColorbarCell} isAnimationActive={false} />
      </ScatterChart>
    </div>
  )
}

const panelText = [
  { tag: 'P1', letter: '(a)', depth: '1.2-2.0 km', tagX: 55, letterX: 417, depthX: 62, tagY: 46, letterY: 58, depthY: 392 },
  { tag: 'P2', letter: '(b)', depth: '4.4-5.2 km', tagX: 434, letterX: 797, depthX: 438, tagY: 46, letterY: 58, depthY: 392 },
  { tag: 'P3', letter: '(c)', depth: '7.6-8.4 km', tagX: 813, letterX: 1181, depthX: 820, tagY: 46, letterY: 58, depthY: 392 },
  { tag: 'P4', letter: '(d)', depth: '10.8-11.6 km', tagX: 55, letterX: 417.7, depthX: 62, tagY: 461, letterY: 475, depthY: 809 },
  { tag: 'P5', letter: '(e)', depth: '14.0-14.8 km', tagX: 434, letterX: 797, depthX: 440, tagY: 461, letterY: 475, depthY: 809 },
  { tag: 'P6', letter: '(f)', depth: '17.2-18.0 km', tagX: 813, letterX: 1177, depthX: 821, tagY: 461, letterY: 475, depthY: 809 },
]

function Overlay() {
  return (
    <svg
      width={1238}
      height={965}
      style={{ position: 'absolute', left: 0, top: 0, pointerEvents: 'none' }}
      fontFamily={FONT}
    >
      {panelText.map((p) => (
        <g key={p.tag}>
          <text x={p.tagX} y={p.tagY} fontSize={17} fontWeight="bold" fill="#19b5ad">
            {p.tag}
          </text>
          <text x={p.letterX} y={p.letterY} fontSize={27.5} textAnchor="end" fill="#111">
            {p.letter}
          </text>
          <text x={p.depthX} y={p.depthY} fontSize={25.6} fill="#111">
            {p.depth}
          </text>
        </g>
      ))}
      <polygon
        points="288,384.5 281,396 295,396"
        fill="#a32a12"
        stroke="#fff"
        strokeWidth={2}
        strokeLinejoin="round"
      />
      <text x={302} y={396.5} fontSize={17.2} fill="#111">
        Seismic station
      </text>
      <rect x={256.6} y={859} width={COLORBAR_W} height={COLORBAR_H} fill="none" stroke="#000" strokeWidth={2.6} />
      <polygon points="256.6,859 244.5,871.5 256.6,884" fill="#f00000" stroke="#000" strokeWidth={2.4} />
      <polygon points="1005.6,859 1017.7,871.5 1005.6,884" fill="#0000ff" stroke="#000" strokeWidth={2.4} />
      <text x={513} y={955} fontSize={28} fill="#111">
        <tspan fontWeight="bold" fontStyle="italic">v</tspan>
        <tspan fontWeight="bold" fontStyle="italic" fontSize={18} dy={4}>P</tspan>
        <tspan dy={-4}> perturbation (%)</tspan>
      </text>
    </svg>
  )
}

export default function App() {
  return (
    <div style={{ position: 'absolute', left: 0, top: 0, width: 1238, height: 965, background: '#fff' }}>
      <MapPanel left={50.6} top={26} cells={cellsP1} haloStations={[0, 1, 2, 3, 4, 5, 6]} callouts={calloutsP1} labelSide="left" />
      <MapPanel left={430.6} top={26} cells={cellsP2} haloStations={[0, 1, 2, 3, 4, 5, 6, 8]} />
      <MapPanel left={808.6} top={26} cells={cellsP3} events={eventsP3} haloStations={[0, 1, 2, 3, 4, 5, 6, 8]} labelSide="right" />
      <MapPanel left={49.6} top={441.6} cells={cellsP4} events={eventsP4} brightEvents={brightEventsP4} haloStations={[3, 5, 8]} labelSide="left" />
      <MapPanel left={429.6} top={441} cells={cellsP5} events={eventsP5} haloStations={[1, 2, 4, 8]} callouts={calloutsP5} />
      <MapPanel left={808.6} top={441} cells={cellsP6} events={eventsP6} brightEvents={brightEventsP6} haloStations={[0, 2, 3, 4, 8]} labelSide="right" />
      <Colorbar />
      <Overlay />
    </div>
  )
}
